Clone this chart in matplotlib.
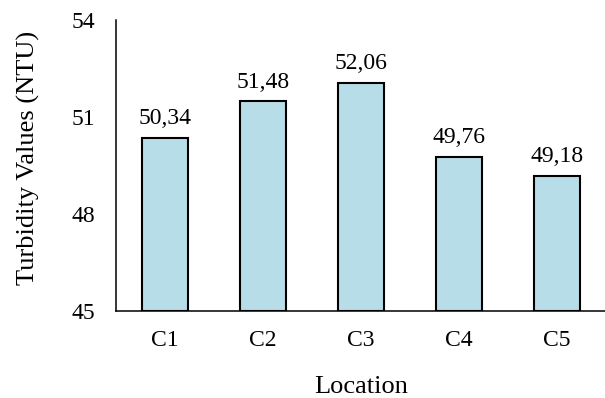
import matplotlib.pyplot as plt
import numpy as np

plt.rcParams['font.family'] = ['Liberation Serif', 'DejaVu Serif']

# Turbidity per sampling location
lokasi = ['C1', 'C2', 'C3', 'C4', 'C5']
kekeruhan = [50.34, 51.48, 52.06, 49.76, 49.18]
label_nilai = ['50,34', '51,48', '52,06', '49,76', '49,18']
yticks = [45, 48, 51, 54]

fig = plt.figure(figsize=(6.05, 3.98), dpi=100)
ax = fig.add_axes([116/605, 1 - 311/398, (606-116)/605, (311-20)/398])

x = np.arange(len(lokasi))
bars = ax.bar(x, np.array(kekeruhan) - 45, bottom=45, width=0.46,
              color='#B7DEE8', edgecolor='black', linewidth=1.5)

for xi, v, t in zip(x, kekeruhan, label_nilai):
    ax.text(xi, v + 0.43, t, ha='center', va='baseline', fontsize=17)

ax.set_xlim(-0.5, len(lokasi) - 0.5)
ax.set_ylim(45, 54)
ax.set_yticks(yticks)
ax.set_xticks(x)
ax.set_xticklabels(lokasi)
ax.tick_params(length=0, labelsize=17)
ax.tick_params(axis='x', pad=13.5)
ax.tick_params(axis='y', pad=15)

for s in ['top', 'right']:
    ax.spines[s].set_visible(False)
ax.spines['left'].set_linewidth(1.1)
ax.spines['bottom'].set_linewidth(1.1)

ax.set_xlabel('Location', fontsize=19, labelpad=18)
ax.set_ylabel('Turbidity Values (NTU)', fontsize=19, labelpad=22)
ax.yaxis.set_label_coords(-0.155, 0.526)

fig.savefig('out.png', dpi=100)
